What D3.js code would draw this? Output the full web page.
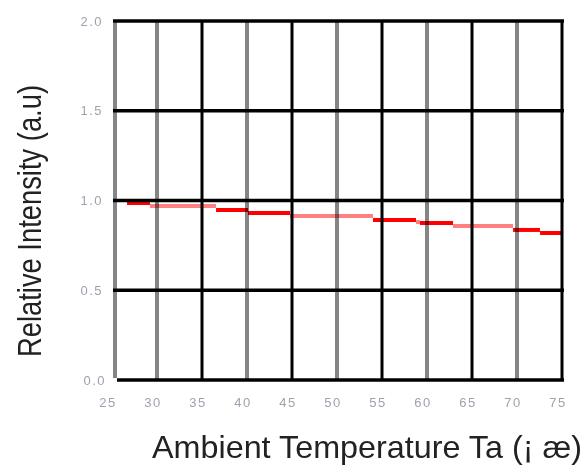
<!DOCTYPE html>
<html>
<head>
<meta charset="utf-8">
<script src="https://cdn.jsdelivr.net/npm/d3@7"></script>
<style>
  html, body { margin: 0; padding: 0; background: #fff; }
  svg { display: block; }
</style>
</head>
<body>
<svg id="chart" width="587" height="466"></svg>
<script>
// ---- data ----
const xTicks = [25, 30, 35, 40, 45, 50, 55, 60, 65, 70, 75];
const yTicks = [0.0, 0.5, 1.0, 1.5, 2.0];
const xTickLabels = ["25", "30", "35", "40", "45", "50", "55", "60", "65", "70", "75"];
const yTickLabels = ["0.0", "0.5", "1.0", "1.5", "2.0"];
// step segments of the relative intensity curve
const segStart = [26.67, 29.22, 36.56, 40.11, 44.78, 54.0, 58.78, 59.22, 62.89, 69.56, 72.56];
const segEnd   = [29.22, 36.56, 40.11, 44.78, 54.0, 58.78, 59.22, 62.89, 69.56, 72.56, 74.89];
const segValue = [0.986, 0.969, 0.947, 0.930, 0.914, 0.891, 0.880, 0.875, 0.858, 0.836, 0.819];
const segTone  = ["strong", "pale", "strong", "strong", "pale", "strong", "pale", "strong", "pale", "strong", "strong"];
const xTitle = "Ambient Temperature Ta (¡ æ)";
const yTitle = "Relative Intensity (a.u)";

// ---- layout ----
const svg = d3.select("#chart");
const x = d3.scaleLinear().domain([25, 75]).range([112, 562]);
const y = d3.scaleLinear().domain([0, 2]).range([380, 21]);

const segs = segStart.map((s, i) => ({ s, e: segEnd[i], v: segValue[i], t: segTone[i] }));

// gray vertical grid lines (left frame + every 10)
const grayX = xTicks.filter(v => v % 10 === 0);
svg.append("line")
  .attr("x1", x(25) + 3).attr("x2", x(25) + 3)
  .attr("y1", y(2)).attr("y2", y(0) - 2)
  .attr("stroke", "#858585").attr("stroke-width", 4);
svg.selectAll("line.vg").data(grayX).enter().append("line")
  .attr("class", "vg")
  .attr("x1", d => x(d)).attr("x2", d => x(d))
  .attr("y1", y(2)).attr("y2", y(0))
  .attr("stroke", "#858585").attr("stroke-width", 4);

// data segments
svg.selectAll("line.seg").data(segs).enter().append("line")
  .attr("class", "seg")
  .attr("x1", d => x(d.s)).attr("x2", d => x(d.e))
  .attr("y1", d => y(d.v)).attr("y2", d => y(d.v))
  .attr("stroke", d => d.t === "strong" ? "#ff0000" : "#ff8080")
  .attr("stroke-width", 4)
  .style("mix-blend-mode", "multiply");

// black vertical grid lines
const blackX = xTicks.filter(v => v % 10 === 5 && v !== 25);
svg.selectAll("line.vb").data(blackX).enter().append("line")
  .attr("class", "vb")
  .attr("x1", d => x(d)).attr("x2", d => x(d))
  .attr("y1", y(2)).attr("y2", y(0))
  .attr("stroke", "#000").attr("stroke-width", 3);

// black horizontal grid lines
svg.selectAll("line.hg").data(yTicks).enter().append("line")
  .attr("class", "hg")
  .attr("x1", d => d === 0 ? x(25) + 5 : x(25) + 1).attr("x2", x(75) + 2)
  .attr("y1", d => y(d)).attr("y2", d => y(d))
  .attr("stroke", "#000").attr("stroke-width", 3.5);

// tick labels
svg.selectAll("text.yt").data(yTicks).enter().append("text")
  .attr("class", "yt")
  .attr("x", (d, i) => i === 0 ? 106 : 103)
  .attr("y", d => y(d) + 4.5)
  .attr("text-anchor", "end")
  .attr("font-family", "Liberation Sans, Arial, sans-serif")
  .attr("font-size", 13)
  .attr("letter-spacing", 1.5)
  .attr("fill", "#a0a0b0")
  .text((d, i) => yTickLabels[i]);

svg.selectAll("text.xt").data(xTicks).enter().append("text")
  .attr("class", "xt")
  .attr("x", d => x(d) - 4)
  .attr("y", 407)
  .attr("text-anchor", "middle")
  .attr("font-family", "Liberation Sans, Arial, sans-serif")
  .attr("font-size", 13)
  .attr("letter-spacing", 1.5)
  .attr("fill", "#a0a0b0")
  .text((d, i) => xTickLabels[i]);

// axis titles
svg.append("text")
  .attr("x", 152).attr("y", 458)
  .attr("font-family", "Liberation Sans, Arial, sans-serif")
  .attr("font-size", 32)
  .attr("textLength", 430)
  .attr("lengthAdjust", "spacingAndGlyphs")
  .attr("fill", "#222")
  .text(xTitle);

svg.append("text")
  .attr("transform", "translate(41,221) rotate(-90)")
  .attr("text-anchor", "middle")
  .attr("font-family", "Liberation Sans, Arial, sans-serif")
  .attr("font-size", 34)
  .attr("textLength", 272)
  .attr("lengthAdjust", "spacingAndGlyphs")
  .attr("fill", "#222")
  .text(yTitle);
</script>
</body>
</html>
